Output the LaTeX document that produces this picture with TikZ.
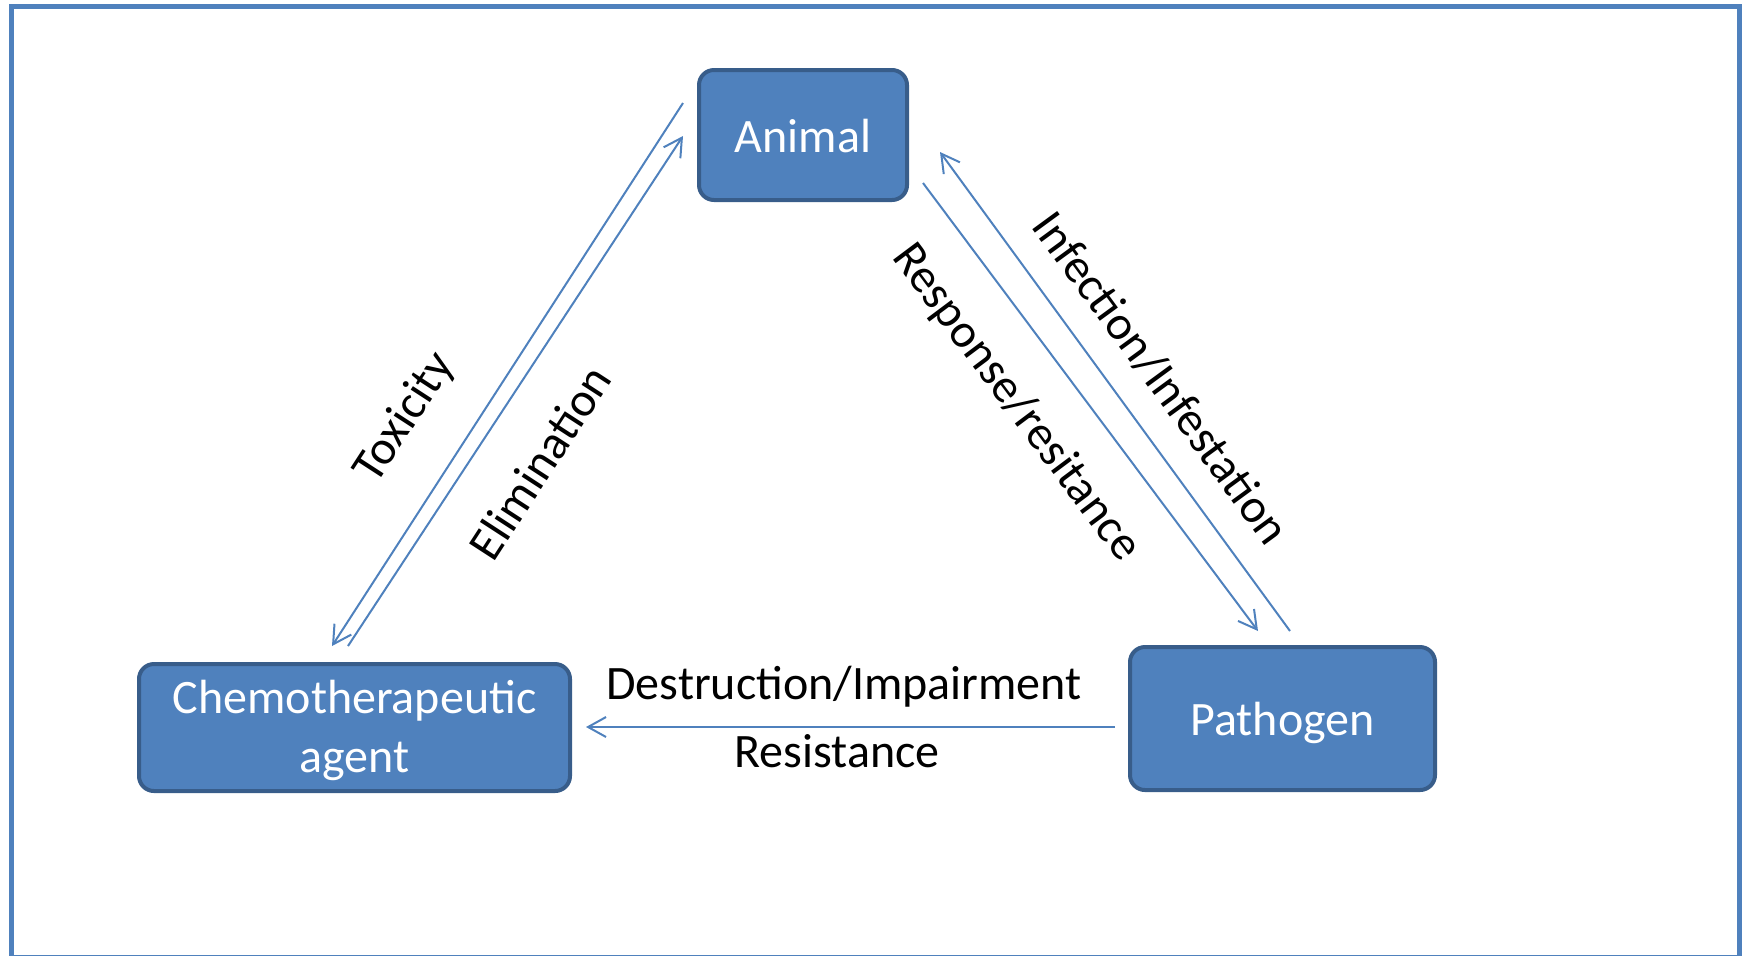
\documentclass[tikz,border=0pt]{standalone}
\usepackage{fontspec}
\setmainfont{Carlito}
\usetikzlibrary{arrows.meta}
\definecolor{obl}{HTML}{4F81BD}
\definecolor{obd}{HTML}{385D8A}
\begin{document}
\begin{tikzpicture}[x=0.5pt,y=-0.5pt,
  box/.style={draw=obd,line width=2pt,fill=obl,rounded corners=7.5pt,text=white,
    font=\fontsize{24}{29.5}\selectfont,align=center,inner sep=0pt},
  conn/.style={draw=obl,line width=1pt,-{Straight Barb[length=9pt,width=10pt,line width=1pt]}},
  lbl/.style={font=\fontsize{24}{29.5}\selectfont,inner sep=0pt,anchor=center}]
\useasboundingbox (0,0) rectangle (1743,955);
\draw[obl,line width=2.5pt] (11,6.5) rectangle (1739.5,957);
\node[box,minimum width=104pt,minimum height=65pt] (animal) at (803,135) {\rule{0pt}{17.5pt}Animal};
\node[box,minimum width=215.5pt,minimum height=63.5pt] (chemo) at (354.5,727.5) {\rule{0pt}{19.5pt}Chemotherapeutic\\agent};
\node[box,minimum width=152.5pt,minimum height=71.5pt] (patho) at (1282.5,718.5) {\rule{0pt}{21pt}Pathogen};
% endpoints
\coordinate (tA) at (683,103);
\coordinate (tC) at (332,646);
\coordinate (eC) at (348,646);
\coordinate (eA) at (683,136);
\coordinate (rA) at (923,183);
\coordinate (rP) at (1258,631);
\coordinate (iP) at (1290,631);
\coordinate (iA) at (940,152);
\coordinate (dP) at (1115,727);
\coordinate (dC) at (586,727);
\draw[conn] (tA) -- (tC);
\draw[conn] (eC) -- (eA);
\draw[conn] (rA) -- (rP);
\draw[conn] (iP) -- (iA);
\draw[conn] (dP) -- (dC);
% labels
\node[lbl,rotate=57] (ltox) at (405,418) {Toxicity};
\node[lbl,rotate=57] (lelim) at (540,462) {Elimination};
\node[lbl,rotate=-53.2] (lresp) at (1016,403) {Response/resitance};
\node[lbl,rotate=-53.8] (linf) at (1161,378) {Infection/Infestation};
\node[lbl] (ldest) at (844,687) {Destruction/Impairment};
\node[lbl] (lres) at (837,751) {Resistance};
\end{tikzpicture}
\end{document}
